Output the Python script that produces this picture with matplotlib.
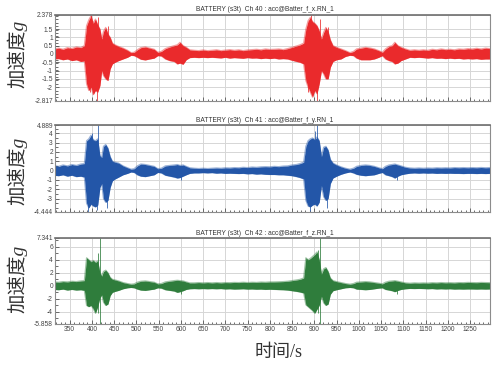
import numpy as np
import matplotlib
matplotlib.use("Agg")
import matplotlib.pyplot as plt
from matplotlib.ticker import MultipleLocator, AutoMinorLocator, FixedLocator

plt.rcParams['font.family'] = ['Liberation Sans', 'Noto Sans CJK SC']

# time knots (s) for the envelope of each channel
t = [315, 325, 335, 345, 355, 365, 375, 383,
     388, 393, 398, 403, 408, 413, 418, 422, 426, 431, 436, 441, 446,
     452, 460, 470, 480, 488, 495, 502, 510, 520, 530, 540, 548, 556,
     565, 575, 585, 592, 598, 605, 612, 620, 630, 640, 650, 660, 670,
     680, 690, 700, 710, 720, 730, 740, 750, 760, 770, 780, 790, 800,
     810, 820, 830, 840, 850, 860, 868, 876,
     881, 886, 891, 896, 901, 906, 911, 916, 921, 926, 931, 936,
     942, 950, 960, 970, 980, 988, 995, 1005, 1015, 1025, 1035, 1045,
     1053, 1060, 1068, 1075, 1081, 1088, 1095, 1105, 1115, 1125, 1135,
     1145, 1155, 1165, 1175, 1185, 1195, 1205, 1215, 1225, 1235, 1245,
     1255, 1265, 1275, 1285, 1295]

# Ch 40 (x)
x_hi = [0.30, 0.35, 0.28, 0.38, 0.33, 0.42, 0.38, 0.50,
        1.70, 2.05, 2.30, 1.85, 2.10, 1.75, 1.50, 0.90, 1.35, 1.60, 1.20, 1.00, 0.65,
        0.55, 0.45, 0.35, 0.22, 0.08, 0.10, 0.25, 0.38, 0.42, 0.35, 0.28, 0.10, 0.15,
        0.32, 0.42, 0.50, 0.55, 0.70, 0.50, 0.40, 0.25, 0.22, 0.20, 0.24, 0.20, 0.22,
        0.25, 0.20, 0.23, 0.26, 0.22, 0.25, 0.20, 0.24, 0.26, 0.28, 0.25, 0.30, 0.27,
        0.28, 0.30, 0.26, 0.32, 0.40, 0.48, 0.55, 0.65,
        1.50, 2.00, 2.20, 1.95, 1.85, 1.70, 1.40, 0.90, 1.30, 1.60, 1.35, 0.85,
        0.50, 0.40, 0.30, 0.20, 0.08, 0.15, 0.30, 0.35, 0.40, 0.36, 0.30, 0.20,
        0.10, 0.30, 0.45, 0.50, 0.70, 0.50, 0.40, 0.30, 0.22, 0.25, 0.22,
        0.25, 0.22, 0.28, 0.25, 0.30, 0.26, 0.28, 0.25, 0.30, 0.28, 0.32,
        0.30, 0.34, 0.30, 0.35, 0.32]
x_lo = [-0.30, -0.28, -0.35, -0.30, -0.40, -0.35, -0.45, -0.42,
        -1.80, -2.20, -2.00, -2.45, -2.20, -2.30, -1.90, -1.00, -1.30, -1.50, -1.60, -0.90, -0.60,
        -0.50, -0.40, -0.30, -0.20, -0.08, -0.10, -0.20, -0.32, -0.36, -0.30, -0.25, -0.10, -0.12,
        -0.30, -0.40, -0.45, -0.60, -0.55, -0.62, -0.35, -0.22, -0.20, -0.22, -0.20, -0.22, -0.20,
        -0.22, -0.24, -0.20, -0.25, -0.22, -0.24, -0.26, -0.22, -0.25, -0.24, -0.28, -0.25, -0.28,
        -0.25, -0.30, -0.28, -0.30, -0.38, -0.45, -0.50, -0.60,
        -1.60, -2.00, -2.30, -2.60, -2.20, -2.40, -1.80, -1.00, -1.20, -1.50, -1.50, -0.80,
        -0.45, -0.35, -0.30, -0.15, -0.08, -0.10, -0.25, -0.35, -0.35, -0.35, -0.30, -0.20,
        -0.10, -0.30, -0.40, -0.45, -0.60, -0.55, -0.40, -0.30, -0.20, -0.22, -0.20,
        -0.22, -0.25, -0.22, -0.26, -0.25, -0.28, -0.25, -0.28, -0.26, -0.30, -0.28,
        -0.30, -0.28, -0.32, -0.30, -0.30]
x_spike_t = [399, 414, 436, 396, 411, 892, 912, 931, 886, 905]
x_spike_hi = [2.37, 2.2, 1.7, 0, 0, 2.37, 2.1, 1.6, 0, 0]
x_spike_lo = [0, 0, 0, -2.3, -2.81, 0, 0, 0, -2.3, -2.81]

# Ch 41 (y)
y_hi = [0.55, 0.45, 0.60, 0.50, 0.65, 0.55, 0.70, 0.75,
        3.20, 3.40, 3.80, 3.30, 3.20, 3.40, 1.60, 1.40, 2.60, 2.80, 2.40, 1.50, 1.00,
        0.90, 0.80, 0.50, 0.30, 0.15, 0.20, 0.50, 0.70, 0.65, 0.55, 0.45, 0.20, 0.25,
        0.50, 0.55, 0.60, 0.65, 0.55, 0.60, 0.45, 0.30, 0.25, 0.22, 0.25, 0.22, 0.25,
        0.28, 0.25, 0.30, 0.28, 0.32, 0.30, 0.35, 0.32, 0.38, 0.35, 0.40, 0.42, 0.40,
        0.45, 0.42, 0.48, 0.50, 0.60, 0.65, 0.75, 0.90,
        2.60, 3.20, 3.40, 3.50, 3.30, 3.60, 3.20, 1.50, 2.50, 2.60, 2.20, 1.20,
        0.80, 0.60, 0.40, 0.25, 0.15, 0.25, 0.45, 0.55, 0.60, 0.55, 0.45, 0.30,
        0.20, 0.45, 0.60, 0.65, 0.70, 0.60, 0.50, 0.35, 0.28, 0.25, 0.28,
        0.25, 0.28, 0.26, 0.30, 0.28, 0.30, 0.28, 0.32, 0.30, 0.32, 0.30,
        0.32, 0.30, 0.33, 0.30, 0.32]
y_lo = [-0.50, -0.55, -0.45, -0.60, -0.50, -0.65, -0.60, -0.70,
        -3.50, -4.00, -3.60, -3.80, -3.90, -3.70, -1.80, -1.40, -3.00, -3.40, -3.20, -1.80, -1.10,
        -0.90, -0.70, -0.45, -0.30, -0.15, -0.20, -0.45, -0.60, -0.65, -0.55, -0.45, -0.20, -0.25,
        -0.50, -0.60, -0.70, -0.80, -0.75, -0.60, -0.45, -0.30, -0.25, -0.25, -0.22, -0.25, -0.22,
        -0.28, -0.25, -0.30, -0.28, -0.30, -0.32, -0.30, -0.35, -0.32, -0.38, -0.35, -0.40, -0.42,
        -0.42, -0.45, -0.45, -0.50, -0.55, -0.65, -0.75, -0.90,
        -3.20, -3.80, -3.90, -3.70, -3.60, -3.80, -3.40, -1.60, -2.80, -3.20, -3.00, -1.40,
        -0.80, -0.60, -0.40, -0.25, -0.15, -0.25, -0.40, -0.50, -0.55, -0.50, -0.45, -0.30,
        -0.20, -0.45, -0.55, -0.65, -0.80, -0.60, -0.45, -0.35, -0.28, -0.25, -0.28,
        -0.25, -0.28, -0.26, -0.30, -0.28, -0.30, -0.28, -0.30, -0.30, -0.32, -0.30,
        -0.30, -0.32, -0.30, -0.32, -0.30]
y_spike_t = [414, 400, 391, 411, 433, 907, 901, 890, 928, 600, 1085]
y_spike_hi = [4.88, 4.0, 0, 0, 0, 4.88, 4.2, 0, 0, 0, 0]
y_spike_lo = [0, 0, -4.43, -4.2, -4.0, 0, 0, -4.3, -4.0, -1.0, -1.0]

# Ch 42 (z)
z_hi = [0.60, 0.55, 0.65, 0.60, 0.70, 0.65, 0.75, 0.80,
        4.30, 4.00, 3.70, 3.90, 3.60, 3.80, 2.00, 1.50, 2.20, 2.40, 2.00, 1.30, 1.00,
        0.90, 0.75, 0.50, 0.35, 0.25, 0.30, 0.55, 0.70, 0.75, 0.65, 0.55, 0.30, 0.35,
        0.60, 0.70, 0.80, 0.85, 0.80, 0.75, 0.60, 0.45, 0.45, 0.50, 0.45, 0.50, 0.45,
        0.50, 0.45, 0.50, 0.48, 0.52, 0.50, 0.55, 0.50, 0.55, 0.52, 0.58, 0.55, 0.60,
        0.60, 0.62, 0.65, 0.70, 0.80, 0.90, 1.00, 1.20,
        4.30, 4.00, 4.20, 4.50, 4.80, 5.20, 4.00, 1.80, 2.60, 2.80, 2.20, 1.20,
        0.80, 0.65, 0.50, 0.35, 0.25, 0.35, 0.55, 0.60, 0.65, 0.60, 0.50, 0.40,
        0.30, 0.55, 0.70, 0.75, 0.80, 0.70, 0.60, 0.45, 0.40, 0.45, 0.42,
        0.45, 0.42, 0.48, 0.45, 0.50, 0.46, 0.48, 0.45, 0.50, 0.48, 0.52,
        0.50, 0.48, 0.52, 0.50, 0.48]
z_lo = [-0.55, -0.60, -0.50, -0.65, -0.55, -0.65, -0.60, -0.70,
        -3.00, -3.20, -3.00, -3.50, -4.20, -3.20, -1.80, -1.40, -2.50, -3.00, -2.80, -1.50, -1.00,
        -0.85, -0.70, -0.45, -0.30, -0.25, -0.30, -0.50, -0.65, -0.70, -0.60, -0.50, -0.30, -0.35,
        -0.60, -0.70, -0.80, -1.00, -0.90, -0.75, -0.55, -0.45, -0.42, -0.45, -0.42, -0.45, -0.42,
        -0.45, -0.42, -0.48, -0.45, -0.50, -0.48, -0.45, -0.50, -0.48, -0.52, -0.50, -0.55, -0.52,
        -0.55, -0.58, -0.60, -0.65, -0.75, -0.85, -0.95, -1.10,
        -2.90, -3.20, -3.50, -3.80, -4.20, -3.60, -3.00, -1.60, -2.60, -3.00, -2.80, -1.30,
        -0.75, -0.60, -0.45, -0.30, -0.25, -0.30, -0.50, -0.55, -0.60, -0.55, -0.45, -0.35,
        -0.30, -0.55, -0.65, -0.75, -0.90, -0.70, -0.55, -0.45, -0.40, -0.42, -0.40,
        -0.42, -0.45, -0.42, -0.48, -0.45, -0.48, -0.45, -0.50, -0.48, -0.50, -0.48,
        -0.48, -0.50, -0.48, -0.50, -0.48]
z_spike_t = [418, 414, 913, 908, 600, 1085]
z_spike_hi = [7.33, 5.0, 7.33, 5.5, 0, 0]
z_spike_lo = [-5.85, -4.2, -5.85, -4.2, -1.2, -1.2]

titles = ["BATTERY (s3t)  Ch 40 : acc@Batter_f_x.RN_1",
          "BATTERY (s3t)  Ch 41 : acc@Batter_f_y.RN_1",
          "BATTERY (s3t)  Ch 42 : acc@Batter_f_z.RN_1"]
colors = ["#ea2a2c", "#2356a8", "#2f7d3c"]
ylims = [(-2.817, 2.378), (-4.444, 4.889), (-5.858, 7.341)]
yticks = [[-2.817, -2, -1.5, -1, -0.5, 0, 0.5, 1, 1.5, 2.378],
          [-4.444, -3, -2, -1, 0, 1, 2, 3, 4, 4.889],
          [-5.858, -4, -2, 0, 2, 4, 6, 7.341]]
ytick_labels = [["-2.817", "-2", "-1.5", "-1", "-0.5", "0", "0.5", "1", "1.5", "2.378"],
                ["-4.444", "-3", "-2", "-1", "0", "1", "2", "3", "4", "4.889"],
                ["-5.858", "-4", "-2", "0", "2", "4", "6", "7.341"]]
his = [x_hi, y_hi, z_hi]
los = [x_lo, y_lo, z_lo]
spikes = [(x_spike_t, x_spike_lo, x_spike_hi),
          (y_spike_t, y_spike_lo, y_spike_hi),
          (z_spike_t, z_spike_lo, z_spike_hi)]

W, H = 492, 367
fig = plt.figure(figsize=(W / 100, H / 100), dpi=100)
fig.patch.set_facecolor("white")

# panel frames in pixels (top, bottom)
frames = [(14.5, 100.7), (125, 212), (238, 324)]
label_centers = [54, 171, 279]
left, right = 55, 490

for i in range(3):
    top, bot = frames[i]
    ax = fig.add_axes([left / W, 1 - bot / H, (right - left) / W, (bot - top) / H])
    c = colors[i]
    # soft fringe, then solid body
    ax.plot(t, his[i], color=c, lw=0.9, alpha=0.45)
    ax.plot(t, los[i], color=c, lw=0.9, alpha=0.45)
    ax.fill_between(t, los[i], his[i], color=c, lw=0)
    st, slo, shi = spikes[i]
    ax.vlines(st, slo, shi, color=c, lw=0.7, alpha=0.8, clip_on=True)

    ax.set_xlim(317, 1295)
    ax.set_ylim(*ylims[i])
    ax.xaxis.set_major_locator(MultipleLocator(50))
    ax.xaxis.set_minor_locator(MultipleLocator(10))
    ax.yaxis.set_major_locator(FixedLocator(yticks[i]))
    ax.set_yticklabels(ytick_labels[i])
    ax.yaxis.set_minor_locator(AutoMinorLocator(4) if i == 0 else MultipleLocator(0.5 if i == 1 else 1))
    ax.grid(True, which="major", color="#d6d6d6", lw=0.7)
    ax.set_axisbelow(True)
    ax.tick_params(which="both", direction="in", color="#555555", width=0.6,
                   labelsize=4.8, labelcolor="#444444", pad=1.5)
    ax.tick_params(which="major", length=3)
    ax.tick_params(which="minor", length=1.8)
    if i < 2:
        ax.tick_params(axis="x", labelbottom=False)
    for s in ax.spines.values():
        s.set_color("#8c8c8c")
        s.set_linewidth(0.8)
    ax.spines["top"].set_color("#6e6e6e")
    ax.spines["top"].set_linewidth(1.2)
    ax.set_title(titles[i], fontsize=4.8, color="#333333", pad=2.5, x=0.483)

    fig.text(17 / W, 1 - label_centers[i] / H, "加速度g", rotation=90,
             ha="center", va="center", fontsize=14, color="#333333",
             family=["Liberation Serif", "Noto Sans CJK SC"], style="italic")

fig.text(279 / W, 1 - 353 / H, "时间/s", ha="center", va="center", fontsize=13,
         color="#333333", family=["Liberation Serif", "Noto Sans CJK SC"])

fig.savefig("out.png", dpi=100)
